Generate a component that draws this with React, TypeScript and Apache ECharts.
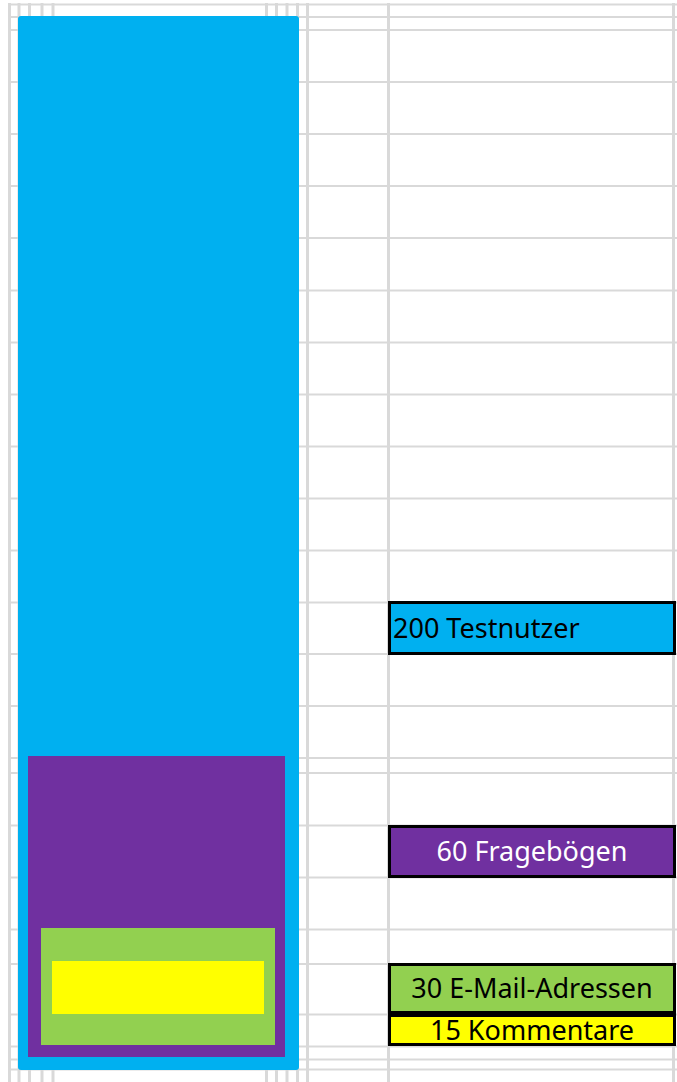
import React, { useEffect, useRef } from "react";
import * as echarts from "echarts";

// Spreadsheet grid: row and column boundary positions (axis units)
const rowLines = [4.5, 17, 30, 82, 134, 186, 238, 290.5, 342.5, 394.5, 446.5, 498.5, 550.5, 602.5, 654, 706, 758, 773, 825.5, 877.5, 929.5, 964, 1014.5, 1046.5, 1059.5, 1069.5];
const colLines = [9.5, 19, 29.5, 42, 53, 266.5, 276.5, 287, 297.5, 307.5, 388.5, 673.5];

// Funnel stages
const counts = [200, 60, 30, 15];
const stageNames = ["Testnutzer", "Fragebögen", "E-Mail-Adressen", "Kommentare"];

// Nested shape extents (axis units)
const shapeLeft = [18, 28, 41, 52];
const shapeRight = [299, 285, 275, 264];
const shapeTop = [16, 756, 928, 961];
const shapeBottom = [1070, 1057, 1045, 1014];

// Label cells (axis units)
const cellLeft = [388, 388, 388, 388];
const cellRight = [676, 676, 676, 676];
const cellTop = [601, 825, 963, 1014];
const cellBottom = [655, 878, 1014, 1046];

const COLORS = ["#00b0f0", "#7030a0", "#92d050", "#ffff00"];
const TEXT_COLORS = ["#000000", "#ffffff", "#000000", "#000000"];
const TEXT_ALIGN = ["left", "center", "center", "center"];

const W = 677;
const H = 1082;

export default function App() {
  const ref = useRef<HTMLDivElement>(null);
  useEffect(() => {
    document.body.style.margin = "0";
    const chart = echarts.init(ref.current!, null, { renderer: "svg" });

    const hLineData = rowLines.map((y) => [8, y, W, y]);
    const vLineData = colLines.map((x) => [x, 3, x, H]);
    const shapeData = counts.map((c, i) => [shapeLeft[i], shapeTop[i], shapeRight[i], shapeBottom[i], c]);
    const cellData = counts.map((c, i) => [cellLeft[i], cellTop[i], cellRight[i], cellBottom[i], c]);

    const lineRender = (width: number) => (params: any, api: any) => {
      const p1 = api.coord([api.value(0), api.value(1)]);
      const p2 = api.coord([api.value(2), api.value(3)]);
      return {
        type: "line",
        shape: { x1: p1[0], y1: p1[1], x2: p2[0], y2: p2[1] },
        style: { stroke: "#d9d9d9", lineWidth: width },
        silent: true,
      };
    };

    chart.setOption({
      animation: false,
      grid: { left: 0, right: 0, top: 0, bottom: 0 },
      xAxis: { type: "value", min: 0, max: W, show: false },
      yAxis: { type: "value", min: 0, max: H, inverse: true, show: false },
      series: [
        {
          type: "custom",
          name: "rows",
          z: 1,
          data: hLineData,
          dimensions: ["x1", "y1", "x2", "y2"],
          encode: { x: [0, 2], y: [1, 3] },
          renderItem: lineRender(2),
        },
        {
          type: "custom",
          name: "cols",
          z: 1,
          data: vLineData,
          dimensions: ["x1", "y1", "x2", "y2"],
          encode: { x: [0, 2], y: [1, 3] },
          renderItem: lineRender(3),
        },
        {
          type: "custom",
          name: "shapes",
          z: 2,
          data: shapeData,
          dimensions: ["x1", "y1", "x2", "y2", "count"],
          encode: { x: [0, 2], y: [1, 3] },
          renderItem: (params: any, api: any) => {
            const i = params.dataIndex;
            const p1 = api.coord([api.value(0), api.value(1)]);
            const p2 = api.coord([api.value(2), api.value(3)]);
            return {
              type: "rect",
              shape: { x: p1[0], y: p1[1], width: p2[0] - p1[0], height: p2[1] - p1[1], r: i === 0 ? 3 : 0 },
              style: { fill: COLORS[i] },
            };
          },
        },
        {
          type: "custom",
          name: "cells",
          z: 3,
          data: cellData,
          dimensions: ["x1", "y1", "x2", "y2", "count"],
          encode: { x: [0, 2], y: [1, 3] },
          renderItem: (params: any, api: any) => {
            const i = params.dataIndex;
            const p1 = api.coord([api.value(0), api.value(1)]);
            const p2 = api.coord([api.value(2), api.value(3)]);
            const align = TEXT_ALIGN[i];
            const tx = align === "left" ? p1[0] + 5 : (p1[0] + p2[0]) / 2;
            const ty = (p1[1] + p2[1]) / 2 - 1;
            return {
              type: "group",
              children: [
                {
                  type: "rect",
                  shape: { x: p1[0] + 1.5, y: p1[1] + 1.5, width: p2[0] - p1[0] - 3, height: p2[1] - p1[1] - 3 },
                  style: { fill: COLORS[i], stroke: "#000000", lineWidth: 3 },
                },
                {
                  type: "text",
                  style: {
                    text: `${api.value(4)} ${stageNames[i]}`,
                    x: tx,
                    y: ty,
                    fill: TEXT_COLORS[i],
                    fontSize: 27,
                    fontFamily: "Noto Sans",
                    align,
                    verticalAlign: "middle",
                  },
                },
              ],
            };
          },
        },
      ],
    });
    return () => chart.dispose();
  }, []);
  return <div ref={ref} style={{ width: W, height: H }} />;
}
